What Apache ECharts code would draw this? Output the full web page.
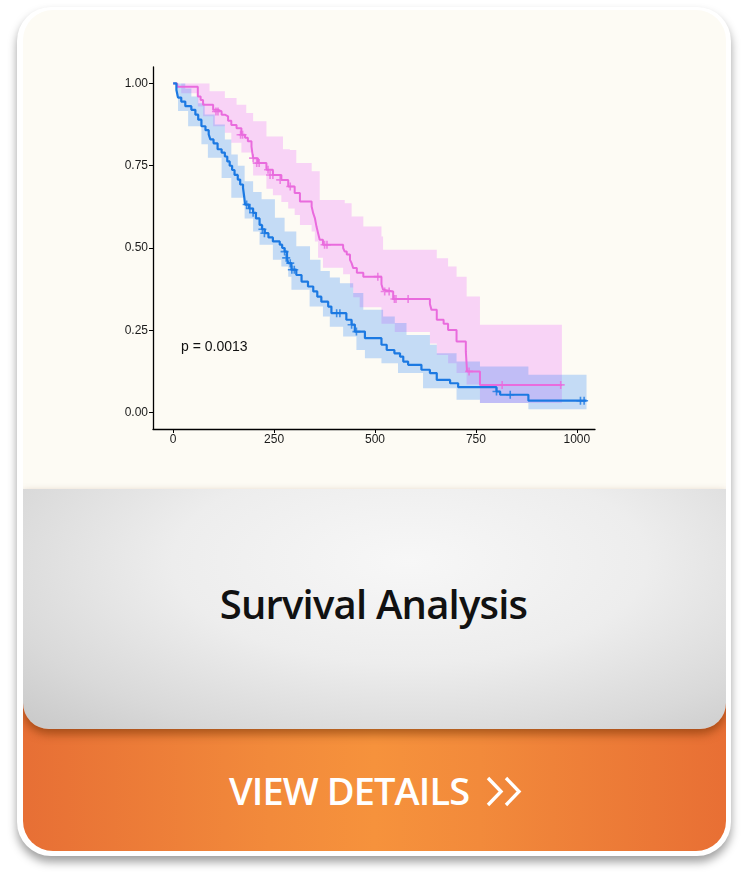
<!DOCTYPE html>
<html>
<head>
<meta charset="utf-8">
<script src="https://cdn.jsdelivr.net/npm/echarts@6.0.0/dist/echarts.min.js"></script>
<style>
  html, body { margin: 0; padding: 0; background: #fff; }
  body { width: 747px; height: 888px; position: relative; overflow: hidden; font-family: "Open Sans", sans-serif; }
  .card { position: absolute; left: 17px; top: 7px; width: 714px; height: 849px; border-radius: 34px; background: #fff;
          box-shadow: 0 6px 10px rgba(0,0,0,0.38); }
  .inner { position: absolute; left: 6px; top: 3px; width: 703px; height: 841px; border-radius: 30px; overflow: hidden; }
  .cream { position: absolute; left: 0; top: 0; width: 100%; height: 479px; background: #fdfbf4; }
  .orange { position: absolute; left: 0; top: 690px; width: 100%; height: 151px;
            background: linear-gradient(to right, #e76f35 0%, #f28a3b 35%, #f6923c 50%, #f28a3b 65%, #e86f34 100%); }
  .gray { position: absolute; left: 0; top: 479px; width: 100%; height: 240px; border-radius: 0 0 26px 26px;
          background: radial-gradient(ellipse 75% 95% at 55% 30%, #f7f7f7 0%, #ededed 45%, #d9d9d9 80%, #cbcbcb 100%);
          box-shadow: 0 5px 10px rgba(110,45,0,0.55); }
  .title { position: absolute; left: 0; width: 747px; top: 578px; text-align: center; font-size: 40px; line-height: 52px;
           color: #111; font-weight: 600; letter-spacing: -0.8px; }
  .btn { position: absolute; left: 229px; top: 764px; font-size: 38px; line-height: 52px; color: #fff; font-weight: 600; letter-spacing: -0.9px; }
  #chevrons { position: absolute; left: 485px; top: 775px; }
  #chart { position: absolute; left: 0; top: 0; width: 747px; height: 489px; }
</style>
</head>
<body>
<div class="card"><div class="inner">
  <div class="cream"></div>
  <div class="orange"></div>
  <div class="gray"></div>
</div></div>
<div id="chart"></div>
<div class="title">Survival Analysis</div>
<div class="btn">VIEW DETAILS</div>
<svg id="chevrons" width="40" height="34"><polyline points="3,3 16,16.5 3,30" fill="none" stroke="#fff" stroke-width="3.4"/><polyline points="21,3 34,16.5 21,30" fill="none" stroke="#fff" stroke-width="3.4"/></svg>
<script>
// survival steps [day, survival]
var blueSteps = [[0,1.0],[8,0.98],[12,0.957],[20,0.945],[30,0.931],[45,0.92],[55,0.905],[62,0.89],[70,0.87],[80,0.858],[88,0.845],[92,0.83],[100,0.818],[110,0.80],[120,0.79],[128,0.778],[134,0.763],[140,0.75],[146,0.737],[152,0.722],[160,0.708],[166,0.693],[173,0.683],[176,0.655],[178,0.632],[188,0.62],[198,0.607],[205,0.59],[214,0.57],[220,0.557],[227,0.545],[236,0.532],[247,0.52],[264,0.51],[270,0.50],[276,0.489],[282,0.47],[285,0.454],[293,0.434],[305,0.418],[318,0.398],[334,0.383],[347,0.368],[357,0.352],[367,0.337],[384,0.322],[392,0.302],[429,0.282],[442,0.267],[450,0.246],[475,0.226],[516,0.206],[529,0.19],[548,0.18],[562,0.17],[570,0.155],[582,0.145],[615,0.13],[636,0.12],[653,0.099],[686,0.089],[706,0.077],[801,0.064],[810,0.054],[880,0.036],[1024,0.036]];
var pinkSteps = [[0,1.0],[10,0.99],[61,0.96],[68,0.95],[74,0.935],[99,0.92],[111,0.915],[120,0.905],[128,0.90],[136,0.887],[144,0.874],[157,0.864],[169,0.844],[178,0.835],[185,0.824],[194,0.808],[196,0.79],[198,0.773],[210,0.758],[231,0.738],[247,0.722],[268,0.707],[285,0.687],[301,0.667],[314,0.641],[343,0.626],[347,0.605],[351,0.591],[355,0.565],[359,0.545],[363,0.525],[371,0.51],[421,0.50],[425,0.489],[430,0.48],[438,0.464],[442,0.454],[446,0.439],[455,0.425],[471,0.413],[516,0.39],[520,0.373],[524,0.368],[545,0.345],[636,0.33],[640,0.312],[653,0.282],[670,0.27],[681,0.251],[702,0.216],[725,0.185],[728,0.125],[760,0.084],[963,0.084]];

// confidence band edges [day, value]
var blueUpper = [[0,1.0],[30,0.985],[45,0.96],[62,0.94],[78,0.906],[103,0.875],[128,0.83],[144,0.784],[160,0.75],[177,0.703],[198,0.67],[219,0.648],[252,0.592],[276,0.55],[305,0.505],[339,0.464],[365,0.43],[388,0.41],[413,0.393],[446,0.363],[471,0.312],[520,0.292],[549,0.272],[578,0.236],[636,0.206],[653,0.18],[702,0.155],[760,0.14],[880,0.115],[1024,0.115]];
var blueLower = [[0,1.0],[8,0.96],[12,0.916],[37,0.87],[70,0.815],[86,0.774],[120,0.713],[144,0.653],[177,0.59],[198,0.55],[214,0.51],[247,0.464],[268,0.444],[285,0.413],[293,0.373],[338,0.322],[371,0.292],[388,0.261],[421,0.231],[454,0.19],[475,0.165],[516,0.15],[557,0.12],[619,0.074],[702,0.039],[760,0.029],[880,0.01],[1024,0.01]];
var pinkUpper = [[0,1.0],[74,1.0],[90,0.976],[128,0.956],[157,0.935],[181,0.91],[198,0.885],[231,0.839],[272,0.80],[289,0.798],[305,0.758],[343,0.733],[363,0.646],[425,0.636],[442,0.596],[471,0.565],[516,0.535],[520,0.495],[653,0.469],[681,0.444],[702,0.413],[727,0.353],[760,0.267],[963,0.267]];
var pinkLower = [[0,1.0],[20,0.97],[61,0.93],[74,0.90],[99,0.87],[128,0.85],[144,0.82],[169,0.79],[198,0.72],[231,0.68],[247,0.66],[268,0.64],[285,0.62],[301,0.60],[314,0.57],[343,0.55],[351,0.52],[359,0.47],[371,0.44],[421,0.42],[438,0.38],[446,0.35],[462,0.32],[516,0.27],[549,0.245],[636,0.21],[653,0.175],[681,0.15],[702,0.12],[727,0.085],[760,0.029],[963,0.029]];

// censor marks [day, survival]
var blueCensor = [[182,0.632],[190,0.62],[198,0.607],[221,0.557],[226,0.545],[276,0.489],[280,0.47],[290,0.454],[294,0.434],[300,0.434],[405,0.302],[413,0.302],[442,0.267],[454,0.246],[801,0.064],[835,0.054],[1009,0.036],[1018,0.036]];
var pinkCensor = [[106,0.915],[111,0.915],[167,0.844],[172,0.844],[198,0.773],[207,0.758],[213,0.758],[235,0.738],[240,0.722],[247,0.722],[265,0.707],[290,0.687],[375,0.51],[381,0.51],[507,0.413],[524,0.368],[535,0.368],[548,0.345],[552,0.345],[582,0.345],[733,0.125],[815,0.084],[960,0.084]];

var xTicks = [0, 250, 500, 750, 1000];
var yTicks = [0, 0.25, 0.5, 0.75, 1];
var pValue = 'p = 0.0013';

var blueColor = '#1c79e2';
var pinkColor = '#e96bdd';
var plusPath = 'path://M4,0H6V4H10V6H6V10H4V6H0V4H4Z';

function stepPoints(arr, api) {
    var pts = [];
    for (var i = 0; i < arr.length - 1; i++) {
        pts.push(api.coord([arr[i][0], arr[i][1]]));
        pts.push(api.coord([arr[i + 1][0], arr[i][1]]));
    }
    pts.push(api.coord(arr[arr.length - 1]));
    return pts;
}

function band(upper, lower, fill) {
    return {
        type: 'custom',
        silent: true,
        z: 1,
        data: [[0, 0]],
        renderItem: function (params, api) {
            var pts = stepPoints(upper, api).concat(stepPoints(lower, api).reverse());
            return { type: 'polygon', shape: { points: pts }, style: { fill: fill } };
        }
    };
}

var dom = document.getElementById('chart');
var myChart = echarts.init(dom, null, { renderer: 'canvas' });

var axisText = { color: '#1a1a1a', fontSize: 12, fontFamily: '"Liberation Sans", Arial, sans-serif' };

var option = {
    animation: false,
    backgroundColor: 'transparent',
    grid: { left: 153, top: 67, width: 442, height: 362, outerBoundsMode: 'none' },
    xAxis: {
        type: 'value', min: -50, max: 1045,
        axisLine: { show: true, onZero: false, lineStyle: { color: '#000', width: 1.3 } },
        axisTick: { show: true, length: 4, customValues: xTicks, lineStyle: { color: '#000', width: 1 } },
        axisLabel: Object.assign({ customValues: xTicks, margin: 5, formatter: function (v) { return String(v); } }, axisText),
        splitLine: { show: false }
    },
    yAxis: {
        type: 'value', min: -0.05, max: 1.05,
        axisLine: { show: true, onZero: false, lineStyle: { color: '#000', width: 1.3 } },
        axisTick: { show: true, length: 4, customValues: yTicks, lineStyle: { color: '#000', width: 1 } },
        axisLabel: Object.assign({ customValues: yTicks, margin: 5, formatter: function (v) { return v.toFixed(2); } }, axisText),
        splitLine: { show: false }
    },
    graphic: [{
        type: 'text', left: 181, top: 340,
        style: { text: pValue, fill: '#111', font: '14px "Liberation Sans", Arial, sans-serif' }
    }],
    series: [
        band(pinkUpper, pinkLower, 'rgba(237,95,252,0.26)'),
        band(blueUpper, blueLower, 'rgba(29,123,248,0.25)'),
        { type: 'line', step: 'end', data: pinkSteps, showSymbol: false, z: 3,
          lineStyle: { color: pinkColor, width: 2 } },
        { type: 'line', step: 'end', data: blueSteps, showSymbol: false, z: 3,
          lineStyle: { color: blueColor, width: 2.2 } },
        { type: 'scatter', data: pinkCensor, symbol: plusPath, symbolSize: 8, z: 4,
          itemStyle: { color: pinkColor } },
        { type: 'scatter', data: blueCensor, symbol: plusPath, symbolSize: 8, z: 4,
          itemStyle: { color: blueColor } }
    ]
};

if (option && typeof option === "object") {
    myChart.setOption(option, true);
}
</script>
</body>
</html>
